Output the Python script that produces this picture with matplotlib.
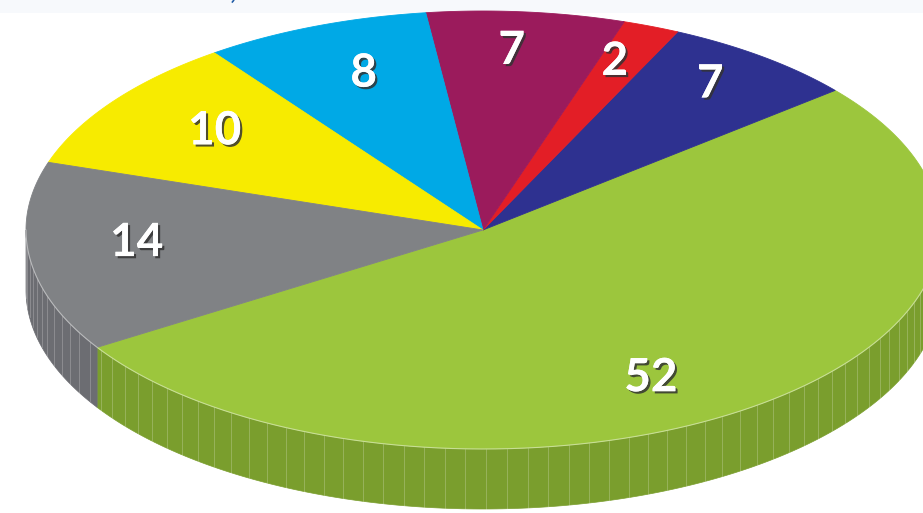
import numpy as np
import matplotlib
matplotlib.use("Agg")
import matplotlib.pyplot as plt
from matplotlib.patches import Polygon, Rectangle
import matplotlib.patheffects as pe

# ---- data (counter-clockwise order, starting with the big green slice) ----
values = [52, 7, 2, 7, 8, 10, 14]
labels = ["52", "7", "2", "7", "8", "10", "14"]
top_colors = ["#9cc63d", "#2e3190", "#e31e26", "#9b1b5c", "#00a9e6", "#f7eb00", "#808285"]
side_colors = ["#7a9e2d", "#23266e", "#b0171d", "#761546", "#0083b3", "#c2b800", "#6c6d72"]

# ---- layout / style ----
start_angle = -147.6          # degrees, where the first slice begins
cx, cy, rx, ry = 483.0, 230.0, 457.0, 219.0
depth = 60.0
label_r = [0.77, 0.83, 0.82, 0.82, 0.76, 0.74, 0.76]
label_nudge = [-7.5, 1.0, 1.0, 1.0, -1.5, -1.5, -2.7]

W, H = 923, 513
fig = plt.figure(figsize=(W / 100, H / 100), dpi=100)
ax = fig.add_axes([0, 0, 1, 1])
ax.set_xlim(0, W)
ax.set_ylim(H, 0)
ax.axis("off")

# light band at the top with a cut-off title fragment
ax.add_patch(Rectangle((0, 0), W, 13, facecolor="#f7f9fc", edgecolor="none", zorder=0))
ax.text(233, -1, ",", color="#1f5ba6", fontsize=20, fontweight="bold",
        ha="center", va="baseline", family="Lato", zorder=1)


def ex(t, r=1.0):
    return cx + r * rx * np.cos(np.radians(t))


def ey(t, r=1.0, dz=0.0):
    return cy - r * ry * np.sin(np.radians(t)) + dz


total = float(sum(values))
bounds = start_angle + 360.0 * np.concatenate([[0], np.cumsum(values)]) / total

# ---- side walls (only the front half is visible) ----
for i in range(len(values)):
    a0, a1 = bounds[i], bounds[i + 1]
    for k in (-1, 0, 1):
        lo = max(a0, -180 + 360 * k)
        hi = min(a1, 0 + 360 * k)
        if hi <= lo:
            continue
        t = np.linspace(lo, hi, 200)
        top = np.column_stack([ex(t), ey(t)])
        bot = np.column_stack([ex(t[::-1]), ey(t[::-1], dz=depth)])
        ax.add_patch(Polygon(np.vstack([top, bot]), closed=True,
                             facecolor=side_colors[i], edgecolor=side_colors[i],
                             linewidth=0.5, zorder=2))

# vertical stripes on the side
for t in np.arange(-178, 0, 2.6):
    ax.plot([ex(t), ex(t)], [ey(t), ey(t, dz=depth)], color="white",
            alpha=0.3, linewidth=0.5, zorder=3)

# ---- top faces ----
for i in range(len(values)):
    a0, a1 = bounds[i], bounds[i + 1]
    t = np.linspace(a0, a1, 300)
    pts = np.vstack([[cx, cy], np.column_stack([ex(t), ey(t)])])
    ax.add_patch(Polygon(pts, closed=True, facecolor=top_colors[i],
                         edgecolor=top_colors[i], linewidth=0.6, zorder=4))

# light highlight along the front rim
tr = np.linspace(-180, 0, 400)
ax.plot(ex(tr), ey(tr), color="white", alpha=0.45, linewidth=0.8, zorder=5)

# ---- labels ----
for i, lab in enumerate(labels):
    mid = (bounds[i] + bounds[i + 1]) / 2 + label_nudge[i]
    ax.text(ex(mid, label_r[i]), ey(mid, label_r[i]), lab, color="white",
            fontsize=33, fontweight="bold", family="Lato",
            ha="center", va="center", zorder=6,
            path_effects=[pe.withSimplePatchShadow(offset=(1.6, -1.6),
                                                   shadow_rgbFace="#333333",
                                                   alpha=0.85),
                          pe.Normal()])

fig.savefig("out.png", dpi=100)
